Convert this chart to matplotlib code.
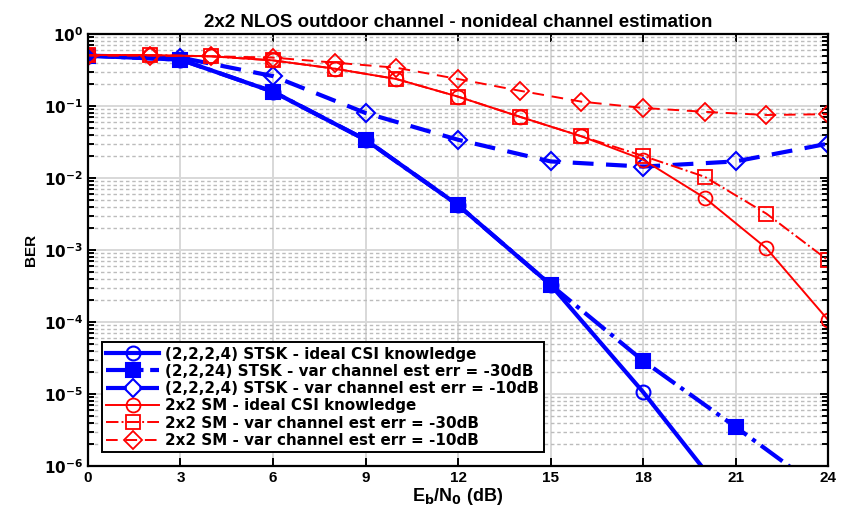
import matplotlib.pyplot as plt
import matplotlib.ticker as mticker

# Eb/N0 grids (dB)
snr_stsk = [0, 3, 6, 9, 12, 15, 18, 21, 24]
snr_sm = [0, 2, 4, 6, 8, 10, 12, 14, 16, 18, 20, 22, 24]

# BER values
stsk_ideal = [0.5, 0.44, 0.158, 0.034, 0.0042, 3.3e-4, 1.07e-5, 2.5e-7, 5e-9]
stsk_30db = [0.5, 0.44, 0.158, 0.034, 0.0042, 3.3e-4, 2.9e-5, 3.5e-6, 4e-7]
stsk_10db = [0.5, 0.47, 0.26, 0.08, 0.034, 0.017, 0.0144, 0.017, 0.030]
sm_ideal = [0.51, 0.51, 0.49, 0.43, 0.33, 0.237, 0.135, 0.071, 0.038, 0.018, 0.0053, 0.00106, 1.07e-4]
sm_30db = [0.51, 0.51, 0.49, 0.43, 0.33, 0.237, 0.135, 0.071, 0.038, 0.0203, 0.0104, 0.0032, 7.2e-4]
sm_10db = [0.5, 0.5, 0.49, 0.47, 0.40, 0.34, 0.237, 0.163, 0.115, 0.094, 0.083, 0.075, 0.077]

labels = [
    "(2,2,2,4) STSK - ideal CSI knowledge",
    "(2,2,24) STSK - var channel est err = -30dB",
    "(2,2,2,4) STSK - var channel est err = -10dB",
    "2x2 SM - ideal CSI knowledge",
    "2x2 SM - var channel est err = -30dB",
    "2x2 SM - var channel est err = -10dB",
]

plt.rcParams['font.family'] = ['Liberation Sans', 'DejaVu Sans']
plt.rcParams['font.weight'] = 'bold'

fig = plt.figure(figsize=(8.51, 5.12), dpi=100, facecolor='white')
ax = fig.add_axes([0.1034, 0.0898, 0.8696, 0.8438])

blue = '#0000ff'
red = '#ff0000'

ax.plot(snr_stsk, stsk_ideal, color=blue, ls='-', lw=3, marker='o', ms=10,
        mfc='none', mew=1.5, label=labels[0])
ax.plot(snr_stsk, stsk_30db, color=blue, ls='-.', lw=3, marker='s', ms=10,
        mfc=blue, mew=1.5, label=labels[1])
ax.plot(snr_stsk, stsk_10db, color=blue, ls=(0, (5, 3)), lw=3, marker='D', ms=9,
        mfc='none', mew=1.5, label=labels[2])
ax.plot(snr_sm, sm_ideal, color=red, ls='-', lw=1.4, marker='o', ms=10,
        mfc='none', mew=1.3, label=labels[3])
ax.plot(snr_sm, sm_30db, color=red, ls='-.', lw=1.4, marker='s', ms=10,
        mfc='none', mew=1.3, label=labels[4])
ax.plot(snr_sm, sm_10db, color=red, ls=(0, (6, 4)), lw=1.4, marker='D', ms=9,
        mfc='none', mew=1.3, label=labels[5])

ax.set_yscale('log')
ax.set_xlim(0, 24)
ax.set_ylim(1e-6, 1)
ax.set_xticks(range(0, 25, 3))
ax.set_yticks([10.0 ** -k for k in range(7)])
ax.set_yticklabels([r'$\mathbf{10^{%d}}$' % (-k) if k else r'$\mathbf{10^{0}}$' for k in range(7)])
ax.yaxis.set_minor_locator(mticker.LogLocator(base=10, subs=range(2, 10), numticks=20))
ax.yaxis.set_minor_formatter(mticker.NullFormatter())

ax.grid(True, which='major', color='#d8d8d8', lw=1.4, ls='-')
ax.grid(True, which='minor', axis='y', color='#bcbcbc', lw=1.0, ls=(0, (2.5, 2)))
ax.set_axisbelow(True)

ax.tick_params(which='both', direction='in', top=True, right=True, labelsize=11, width=1.4)
ax.tick_params(which='major', length=6)
ax.tick_params(which='minor', length=4)
for s in ax.spines.values():
    s.set_linewidth(1.6)

ax.set_title("2x2 NLOS outdoor channel - nonideal channel estimation",
             fontsize=13.5, fontweight='bold', pad=5)
ax.set_xlabel(r"E$_\mathbf{b}$/N$_\mathbf{0}$ (dB)", fontsize=13, fontweight='bold', labelpad=1)
ax.set_ylabel("BER", fontsize=11, fontweight='bold', labelpad=4)

leg = ax.legend(loc='lower left', frameon=True, fancybox=False,
                prop={'family': 'DejaVu Sans', 'weight': 'bold', 'size': 10.9},
                edgecolor='black', framealpha=1, borderaxespad=0.9,
                handlelength=3.5, labelspacing=0.15, borderpad=0.3, handletextpad=0.4)
leg.get_frame().set_linewidth(1.4)

fig.savefig('out.png', dpi=100)
